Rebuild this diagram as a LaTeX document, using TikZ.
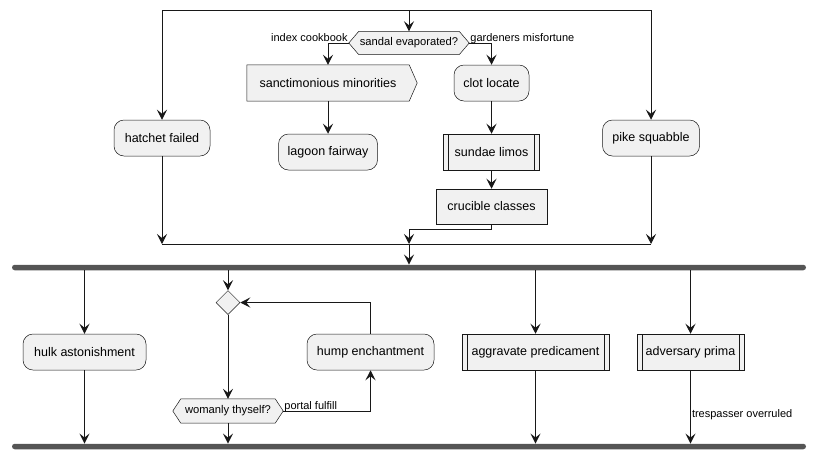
\documentclass[tikz,border=0pt]{standalone}
\usepackage{fontspec}
\setmainfont{Liberation Sans}
\usetikzlibrary{arrows.meta,shapes.geometric,backgrounds}

\definecolor{boxfill}{HTML}{F1F1F1}
\definecolor{edge}{HTML}{181818}
\definecolor{barfill}{HTML}{555555}

\tikzset{
  base/.style={fill=boxfill, draw=edge, line width=0.5pt, text=black,
    font=\fontsize{12.5}{15}\selectfont, inner sep=0pt, minimum height=36pt},
  act/.style={base, rounded corners=10pt},
  plainbox/.style={base},
  subproc/.style={base, path picture={
    \draw[edge, line width=0.5pt]
      ([xshift=5pt]path picture bounding box.north west) -- ([xshift=5pt]path picture bounding box.south west)
      ([xshift=-5pt]path picture bounding box.north east) -- ([xshift=-5pt]path picture bounding box.south east);}},
  shapetext/.style={font=\fontsize{12.5}{15}\selectfont, inner sep=0pt, minimum height=36pt},
  hextext/.style={font=\fontsize{11.2}{13}\selectfont, inner sep=0pt},
  outline/.style={fill=boxfill, draw=edge, line width=0.5pt},
  flow/.style={draw=edge, line width=1pt},
  arr/.style={flow, -{Stealth[length=10pt,width=10pt,inset=4pt]}},
  elabel/.style={font=\fontsize{11}{13}\selectfont, inner sep=1pt, text=black},
  bar/.style={fill=barfill, draw=none, rounded corners=2.75pt, minimum height=5.5pt, inner sep=0pt},
  mergediamond/.style={diamond, outline, minimum width=24pt, minimum height=24pt, inner sep=0pt},
}

% hexagonal decision frame behind a text node: #1 node name, #2 point depth
\newcommand{\drawhexframe}[2]{%
  \begin{scope}[on background layer]
    \draw[outline] (#1.west) -- ([xshift=#2]#1.north west) -- ([xshift=-#2]#1.north east)
      -- (#1.east) -- ([xshift=-#2]#1.south east) -- ([xshift=#2]#1.south west) -- cycle;
  \end{scope}}

\begin{document}
\begin{tikzpicture}[x=1pt, y=-1pt]
\useasboundingbox (0,0) rectangle (816,459);

% ---------- split section ----------
\coordinate (splitL) at (162,10);
\coordinate (splitM) at (409,10);
\coordinate (splitR) at (651,10);
\draw[flow] (splitL) -- (splitR);

\node[hextext, minimum width=120pt, minimum height=23pt] (dec1) at (409,43) {sandal evaporated?};
\drawhexframe{dec1}{10pt}

\node[shapetext, minimum width=162pt] (sanct) at (328,83) {sanctimonious minorities};
\begin{scope}[on background layer]
  \draw[outline] (sanct.north west) -- (sanct.north east) -- ([xshift=8pt]sanct.east)
    -- (sanct.south east) -- (sanct.south west) -- cycle;
\end{scope}

\node[act, minimum width=75pt] (clot) at (491.5,83) {clot locate};
\node[act, minimum width=96pt] (hatchet) at (162,138) {hatchet failed};
\node[act, minimum width=97pt] (pike) at (651,138) {pike squabble};
\node[act, minimum width=99pt] (lagoon) at (328,152) {lagoon fairway};
\node[subproc, minimum width=96pt] (sundae) at (491.5,152) {sundae limos};
\node[plainbox, minimum width=111pt, minimum height=35pt] (cruc) at (491.5,206.5) {crucible classes};

\draw[arr] (splitL) -- (hatchet.north);
\draw[arr] (splitR) -- (pike.north);
\draw[arr] (splitM) -- (dec1.north);

\draw[arr] (dec1.west) -| (sanct.north);
\draw[arr] (dec1.east) -| (clot.north);
\node[elabel, anchor=base east] (lblA) at ([yshift=2pt]dec1.west) {index cookbook};
\node[elabel, anchor=base west] (lblB) at ([yshift=2pt]dec1.east) {gardeners misfortune};

\draw[arr] (sanct.south) -- (lagoon.north);
\draw[arr] (clot.south) -- (sundae.north);
\draw[arr] (sundae.south) -- (cruc.north);

% ---------- merge ----------
\coordinate (mergeL) at (162,244);
\coordinate (mergeM) at (409,244);
\coordinate (mergeR) at (651,244);
\draw[flow] (mergeL) -- (mergeR);
\draw[arr] (hatchet.south) -- (mergeL);
\draw[arr] (pike.south) -- (mergeR);
\draw[arr] (cruc.south) -- ++(0,5) -| (mergeM);

% ---------- fork / join bars ----------
\node[bar, minimum width=794pt] (fork) at (409,267.5) {};
\node[bar, minimum width=794pt] (join) at (409,446.5) {};
\draw[arr] (mergeM) -- (mergeM |- fork.north);

% ---------- parallel branches ----------
\node[act, minimum width=123pt] (hulk) at (84.5,352) {hulk astonishment};
\node[mergediamond] (loop) at (228,302.5) {};
\node[hextext, minimum width=110pt, minimum height=24pt] (wom) at (228,411) {womanly thyself?};
\drawhexframe{wom}{8pt}
\node[act, minimum width=127pt] (hump) at (370.5,352) {hump enchantment};
\node[subproc, minimum width=147pt] (agg) at (535.5,352) {aggravate predicament};
\node[subproc, minimum width=107pt] (adv) at (690.5,352) {adversary prima};

\draw[arr] (hulk.north |- fork.south) -- (hulk.north);
\draw[arr] (hulk.south) -- (hulk.south |- join.north);

\draw[arr] (loop.north |- fork.south) -- (loop.north);
\draw[arr] (loop.south) -- (wom.north);
\draw[arr] (wom.south) -- (wom.south |- join.north);
\draw[arr] (wom.east) -| (hump.south);
\node[elabel, anchor=base west] (lblC) at ([yshift=2pt]wom.east) {portal fulfill};
\draw[arr] (hump.north) |- (loop.east);

\draw[arr] (agg.north |- fork.south) -- (agg.north);
\draw[arr] (agg.south) -- (agg.south |- join.north);

\draw[arr] (adv.north |- fork.south) -- (adv.north);
\draw[arr] (adv.south) -- node[elabel, anchor=west, pos=0.6] (lblD) {trespasser overruled} (adv.south |- join.north);

\end{tikzpicture}
\end{document}
